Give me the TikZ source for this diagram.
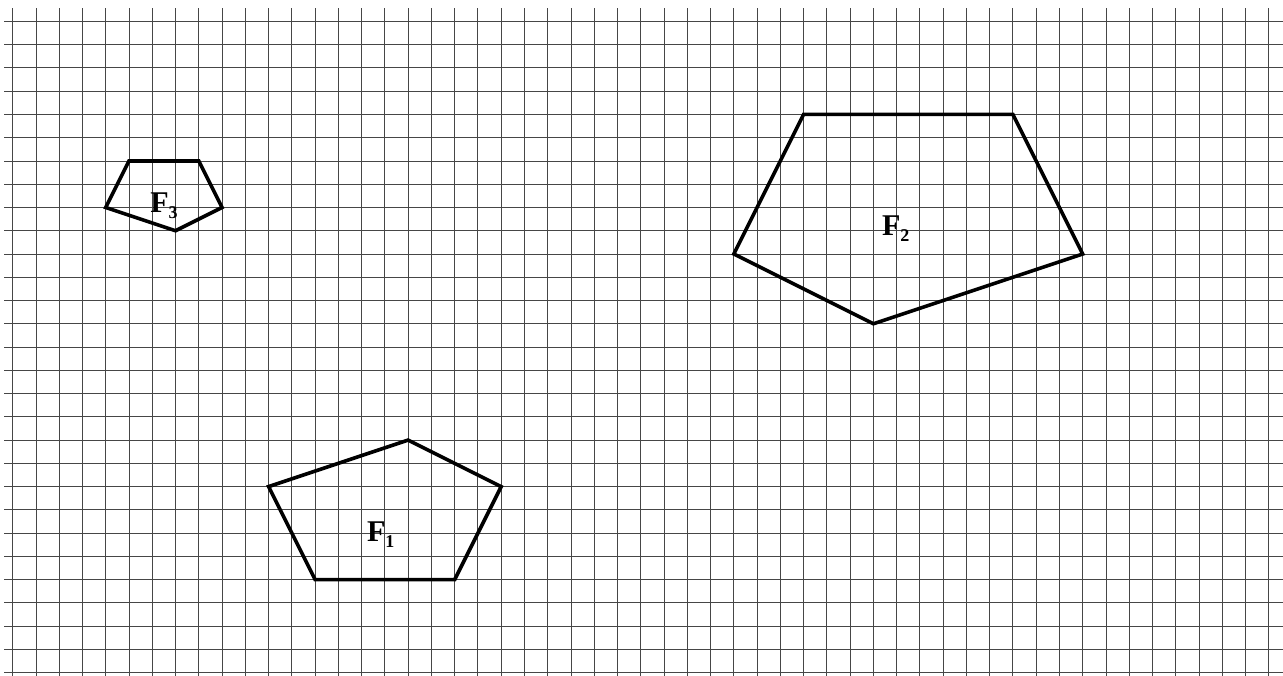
\documentclass[tikz,border=0pt]{standalone}
\usepackage{fontspec}
\setmainfont{Liberation Serif}
\usepackage{tikz}
\definecolor{GridGray}{RGB}{70,70,70}
\tikzset{
  gridline/.style={draw=GridGray,line width=0.55pt},
  figline/.style={draw=black,line width=2.2pt,line join=miter},
  figlabel/.style={anchor=base west,inner sep=0pt,font=\fontsize{18.4}{20}\selectfont\bfseries},
}
\newcommand\figname[1]{F\raisebox{-3.6pt}{\fontsize{11}{11}\selectfont\bfseries #1}}

\begin{document}
\begin{tikzpicture}[x=0.5cm,y=0.5cm]
      \useasboundingbox (-0.546,-0.099) rectangle (54.61,28.92);
      % squared paper
      \foreach \i in {0,...,54} \draw[gridline] (\i,-0.2) -- (\i,28.58);
      \foreach \j in {0,...,28} \draw[gridline] (-0.374,\j) -- (54.7,\j);
      % the three pentagons
      \draw[figline] (17,10) -- (21,8) -- (19,4) -- (13,4) -- (11,8) -- cycle;
      \draw[figline] (34,24) -- (43,24) -- (46,18) -- (37,15) -- (31,18) -- cycle;
      \draw[figline] (5,22) -- (8,22) -- (9,20) -- (7,19) -- (4,20) -- cycle;
      \node[figlabel] (f1) at (15.22,5.62) {\figname{1}};
      \node[figlabel] (f2) at (37.36,18.80) {\figname{2}};
      \node[figlabel] (f3) at (5.90,19.79) {\figname{3}};
\end{tikzpicture}
\end{document}
